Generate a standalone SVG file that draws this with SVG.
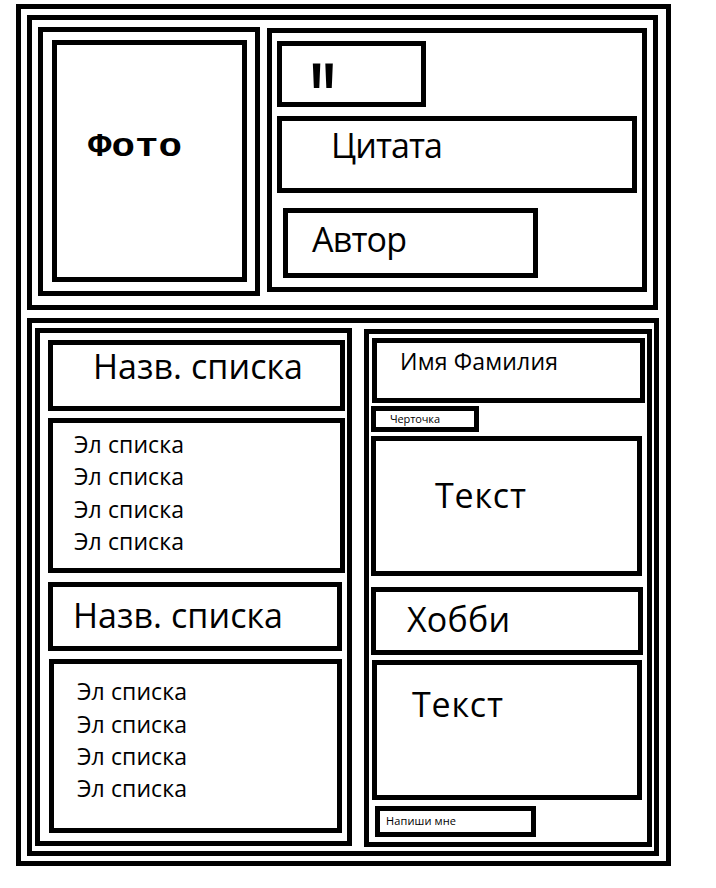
<svg xmlns="http://www.w3.org/2000/svg" width="716" height="888" viewBox="0 0 716 888">
<style>
.b{fill:none;stroke:#000;stroke-width:5}
.t{font-family:"Open Sans","Noto Sans","DejaVu Sans",sans-serif;fill:#000}
.L{font-size:34px}
.M{font-size:23px}
.S{font-size:11px}
.px{font-family:"Liberation Mono","DejaVu Sans Mono",monospace;font-weight:bold;fill:#000}
</style>
<rect width="716" height="888" fill="#fff"/>
<g id="frames">
<rect class="b" x="18.5" y="6.5" width="650" height="857"/>
<rect class="b" x="29.5" y="17.5" width="626" height="290"/>
<rect class="b" x="269.5" y="30.5" width="375" height="259"/>
<rect class="b" x="29.5" y="320.5" width="627" height="533"/>
<rect class="b" x="37.5" y="330.5" width="312" height="513"/>
<rect class="b" x="366.5" y="331.5" width="283" height="513"/>
</g>
<g id="photo">
<rect class="b" x="40.5" y="29.5" width="217" height="264"/>
<rect class="b" x="54.5" y="42.5" width="190" height="237"/>
<text class="px" x="88" y="156" font-size="34" textLength="94" lengthAdjust="spacingAndGlyphs">Фото</text>
</g>
<g id="quote-mark">
<rect class="b" x="279.5" y="43.5" width="144" height="61"/>
<text class="px" font-size="56" transform="matrix(1,0,0,1.4,306,120)">"</text>
</g>
<g id="quote">
<rect class="b" x="279.5" y="118.5" width="355" height="72"/>
<text class="t L" x="331" y="158" textLength="112">Цитата</text>
</g>
<g id="author">
<rect class="b" x="285.5" y="210.5" width="250" height="65"/>
<text class="t L" x="312" y="252" textLength="95">Автор</text>
</g>
<g id="list1-title">
<rect class="b" x="50.5" y="342.5" width="292" height="66"/>
<text class="t L" x="93" y="379" textLength="210">Назв. списка</text>
</g>
<g id="list1">
<rect class="b" x="50.5" y="420.5" width="292" height="150"/>
<text class="t M" x="74" y="453" textLength="110">Эл списка</text>
<text class="t M" x="74" y="485" textLength="110">Эл списка</text>
<text class="t M" x="74" y="518" textLength="110">Эл списка</text>
<text class="t M" x="74" y="550" textLength="110">Эл списка</text>
</g>
<g id="list2-title">
<rect class="b" x="50.5" y="584.5" width="289" height="64"/>
<text class="t L" x="73" y="628" textLength="210">Назв. списка</text>
</g>
<g id="list2">
<rect class="b" x="51.5" y="661.5" width="288" height="169"/>
<text class="t M" x="77" y="700" textLength="110">Эл списка</text>
<text class="t M" x="77" y="733" textLength="110">Эл списка</text>
<text class="t M" x="77" y="765" textLength="110">Эл списка</text>
<text class="t M" x="77" y="797" textLength="110">Эл списка</text>
</g>
<g id="name">
<rect class="b" x="374.5" y="340.5" width="268" height="60"/>
<text class="t M" x="400" y="370" textLength="158">Имя Фамилия</text>
</g>
<g id="dash">
<rect class="b" x="373.5" y="408.5" width="103" height="21"/>
<text class="t S" x="390" y="423" textLength="50">Черточка</text>
</g>
<g id="text1">
<rect class="b" x="373.5" y="438.5" width="266" height="135"/>
<text class="t L" x="435" y="508" textLength="91">Текст</text>
</g>
<g id="hobby">
<rect class="b" x="373.5" y="589.5" width="267" height="63"/>
<text class="t L" x="407" y="632" textLength="103">Хобби</text>
</g>
<g id="text2">
<rect class="b" x="374.5" y="662.5" width="265" height="135"/>
<text class="t L" x="412" y="717" textLength="91">Текст</text>
</g>
<g id="contact">
<rect class="b" x="377.5" y="808.5" width="156" height="26"/>
<text class="t S" x="386" y="825" textLength="70">Напиши мне</text>
</g>
<g id="connectors"></g>
</svg>
